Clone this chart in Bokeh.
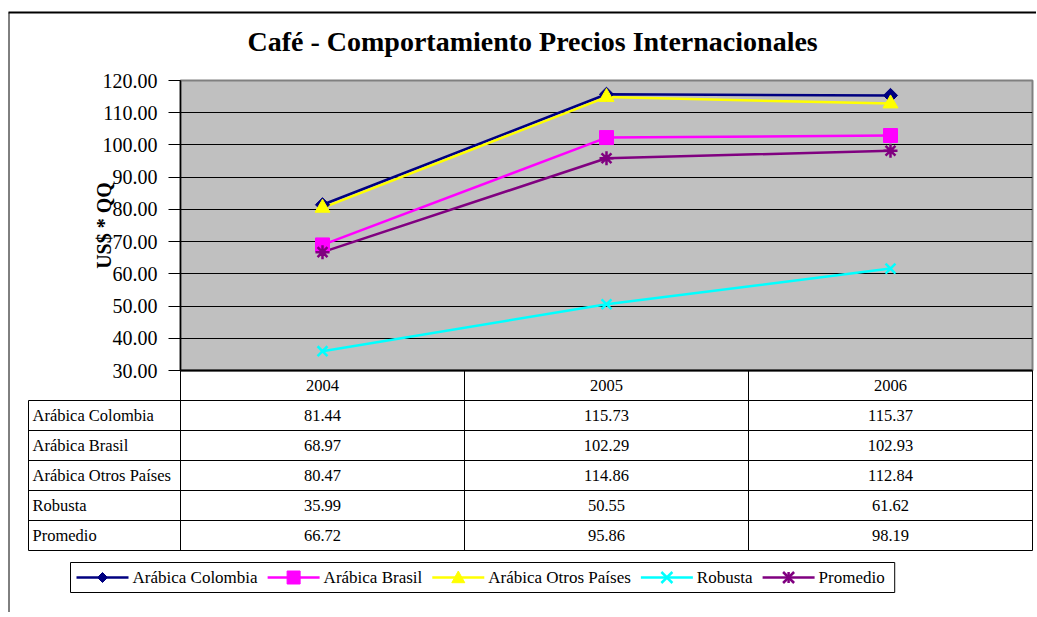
import math
from bokeh.plotting import figure
from bokeh.models import (Range1d, FixedTicker, NumeralTickFormatter, ColumnDataSource)
from bokeh.embed import file_html
from bokeh.resources import INLINE
from bokeh.core.properties import value

# ---------------- data ----------------
years = ["2004", "2005", "2006"]
series_names = ["Arábica Colombia", "Arábica Brasil", "Arábica Otros Países", "Robusta", "Promedio"]
arabica_colombia = [81.44, 115.73, 115.37]
arabica_brasil = [68.97, 102.29, 102.93]
arabica_otros = [80.47, 114.86, 112.84]
robusta = [35.99, 50.55, 61.62]
promedio = [66.72, 95.86, 98.19]
y_ticks = [30, 40, 50, 60, 70, 80, 90, 100, 110, 120]
title_text = "Café - Comportamiento Precios Internacionales"
y_label = "US$ * QQ"

series_values = [arabica_colombia, arabica_brasil, arabica_otros, robusta, promedio]
# category slots: one unit per year, point at the slot centre
year_pos = [i + 0.5 for i in range(len(years))]

# ---------------- styles ----------------
colors = ["#000080", "#FF00FF", "#FFFF00", "#00FFFF", "#800080"]
markers = ["square", "square", "triangle", "x", "asterisk"]
legend_shapes = ["diamond", "square", "triangle", "x", "asterisk"]
marker_angles = [math.pi / 4, 0, 0, 0, 0]
marker_sizes = [10, 14, 15, 14, 14]
legend_marker_half = [5, 6.5, 6.5, 5.5, 5.5]
marker_lw = [1, 1, 1, 2.5, 2.5]
FONT = "Liberation Serif"

W, H = 1036, 612
F_LEFT, F_RIGHT, F_TOP = 180, 4, 80
F_W = W - F_LEFT - F_RIGHT      # 852
F_H = 290
F_BOTTOM = H - F_TOP - F_H

# ---------------- chart ----------------
p = figure(width=W, height=H, x_range=Range1d(0, len(years)), y_range=Range1d(30, 120),
           output_backend="svg", toolbar_location=None,
           min_border_left=F_LEFT, min_border_right=F_RIGHT, min_border_top=F_TOP,
           min_border_bottom=F_BOTTOM, x_axis_location=None,
           background_fill_color="#C0C0C0", outline_line_color="#808080", outline_line_width=2)
# pixel-like helper ranges (origin at frame top-left, y downward) for title, table, legend, box
p.extra_x_ranges = {"px": Range1d(0, F_W)}
p.extra_y_ranges = {"px": Range1d(F_H, 0)}
OV = dict(x_range_name="px", y_range_name="px", level="overlay")

ya = p.yaxis[0]
ya.ticker = FixedTicker(ticks=y_ticks)
ya.formatter = NumeralTickFormatter(format="0.00")
ya.major_label_text_font = FONT
ya.major_label_text_font_size = "20px"
ya.major_label_text_color = "black"
ya.major_tick_out = 12
ya.major_tick_in = 0
ya.minor_tick_out = 0
ya.minor_tick_in = 0
ya.major_label_standoff = 11
ya.axis_line_color = "black"
ya.axis_line_width = 1.5
ya.major_tick_line_color = "black"
ya.axis_label = y_label
ya.axis_label_text_font = FONT
ya.axis_label_text_font_size = "20px"
ya.axis_label_text_font_style = "bold"
ya.axis_label_text_color = "black"
ya.axis_label_standoff = -15

p.ygrid.grid_line_color = "black"
p.ygrid.grid_line_width = 1
p.xgrid.visible = False

# ---------------- title ----------------
p.text(x=[67], y=[-39], text=[title_text], text_align="left", text_baseline="alphabetic",
       text_font=value(FONT), text_font_size="28px", text_font_style="bold",
       text_color="black", **OV)

# ---------------- series ----------------
sources = [ColumnDataSource(dict(x=year_pos, year=years, price=vals)) for vals in series_values]
for src, c in zip(sources, colors):
    p.line("x", "price", source=src, line_color=c, line_width=2.5)
for src, c, m, a, s, lw in zip(sources, colors, markers, marker_angles, marker_sizes, marker_lw):
    p.scatter("x", "price", source=src, marker=m, angle=a, size=s,
              fill_color=c, line_color=c, line_width=lw)

# ---------------- data table (drawn below the frame) ----------------
LABEL_W = 152
COL_W = F_W / len(years)
col_edges = [i * COL_W for i in range(len(years) + 1)]
HEAD_H = 30
ROW_H = 30
T_TOP = F_H
T_BOTTOM = T_TOP + HEAD_H + ROW_H * len(series_names)

p.segment(x0=[0], y0=[T_TOP], x1=[F_W], y1=[T_TOP], line_color="black", line_width=2, **OV)
p.segment(x0=col_edges, y0=[T_TOP] * len(col_edges), x1=col_edges, y1=[T_BOTTOM] * len(col_edges),
          line_color="black", line_width=1, **OV)
hy = [T_TOP + HEAD_H + ROW_H * i for i in range(len(series_names) + 1)]
p.segment(x0=[-LABEL_W] * len(hy), y0=hy, x1=[F_W] * len(hy), y1=hy,
          line_color="black", line_width=1, **OV)
p.segment(x0=[-LABEL_W], y0=[T_TOP + HEAD_H], x1=[-LABEL_W], y1=[T_BOTTOM],
          line_color="black", line_width=1, **OV)

TXT = dict(text_font=value(FONT), text_font_size="16.5px", text_color="black",
           text_baseline="middle", y_range_name="px", level="overlay")
p.text(x=year_pos, y=[T_TOP + HEAD_H / 2] * len(years), text=years, text_align="center", **TXT)
for r, vals in enumerate(series_values):
    yc = T_TOP + HEAD_H + ROW_H * (r + 0.5)
    p.text(x=year_pos, y=[yc] * len(vals), text=[f"{v:.2f}" for v in vals], text_align="center", **TXT)
p.text(x=[-LABEL_W + 4] * len(series_names),
       y=[T_TOP + HEAD_H + ROW_H * (r + 0.5) for r in range(len(series_names))],
       text=series_names, text_align="left", x_range_name="px", **TXT)

# ---------------- outer chart box (top and left edges visible) ----------------
BOX_X0 = -(F_LEFT - 8)
BOX_Y0 = -(F_TOP - 12)
p.segment(x0=[BOX_X0], y0=[BOX_Y0], x1=[F_W + F_RIGHT], y1=[BOX_Y0],
          line_color="black", line_width=2, **OV)
p.segment(x0=[BOX_X0 + 0.5], y0=[BOX_Y0], x1=[BOX_X0 + 0.5], y1=[F_H + F_BOTTOM],
          line_color="black", line_width=1, **OV)

# ---------------- legend (boxed, one row, below the table) ----------------
# advance widths (em) of Liberation Serif / Times for the legend characters
SERIF_W = {"A": .722, "r": .333, "á": .444, "b": .5, "i": .278, "c": .444, "a": .444,
           " ": .25, "C": .667, "o": .5, "l": .278, "m": .778, "B": .667, "s": .389,
           "O": .722, "t": .278, "P": .556, "í": .278, "e": .444, "R": .667, "u": .5, "d": .5}
LEG_FS = 17


def text_width(s):
    return sum(SERIF_W.get(ch, 0.5) for ch in s) * LEG_FS


def legend_marker(shape, cx, cy, h, color):
    """Legend key symbol drawn with unculled glyphs (the key sits outside the frame)."""
    if shape == "diamond":
        p.patch(x=[cx, cx + h, cx, cx - h], y=[cy - h, cy, cy + h, cy],
                fill_color=color, line_color=color, line_width=1, **OV)
    elif shape == "square":
        p.quad(left=[cx - h], right=[cx + h], top=[cy - h], bottom=[cy + h],
               fill_color=color, line_color=color, line_width=1, **OV)
    elif shape == "triangle":
        p.patch(x=[cx - h, cx + h, cx], y=[cy + h * 0.8, cy + h * 0.8, cy - h],
                fill_color=color, line_color=color, line_width=1, **OV)
    else:
        x0 = [cx - h, cx - h]
        x1 = [cx + h, cx + h]
        y0 = [cy - h, cy + h]
        y1 = [cy + h, cy - h]
        if shape == "asterisk":
            x0.append(cx); x1.append(cx); y0.append(cy - h); y1.append(cy + h)
        p.segment(x0=x0, y0=y0, x1=x1, y1=y1, line_color=color, line_width=2.5, **OV)


LEG_GLYPH_W, LEG_STANDOFF, LEG_SPACING = 52, 4, 10
LEG_PAD_L, LEG_PAD_R = 6, 10
LEG_X0 = 70 - F_LEFT
LEG_Y0, LEG_Y1 = 562 - F_TOP, 592 - F_TOP
leg_cy = (LEG_Y0 + LEG_Y1) / 2
starts = []
gx = LEG_X0 + LEG_PAD_L
for name in series_names:
    starts.append(gx)
    gx += LEG_GLYPH_W + LEG_STANDOFF + text_width(name) + LEG_SPACING
LEG_X1 = gx - LEG_SPACING + LEG_PAD_R

p.quad(left=[LEG_X0], right=[LEG_X1], top=[LEG_Y0], bottom=[LEG_Y1],
       fill_color="white", line_color="black", line_width=1, **OV)
for name, gx, c, shp, hh in zip(series_names, starts, colors, legend_shapes, legend_marker_half):
    p.segment(x0=[gx], y0=[leg_cy], x1=[gx + LEG_GLYPH_W], y1=[leg_cy],
              line_color=c, line_width=2.5, **OV)
    legend_marker(shp, gx + LEG_GLYPH_W / 2, leg_cy, hh, c)
    p.text(x=[gx + LEG_GLYPH_W + LEG_STANDOFF], y=[leg_cy], text=[name], text_align="left",
           text_baseline="middle", text_font=value(FONT), text_font_size=f"{LEG_FS}px",
           text_color="black", **OV)

open("out.html", "w").write(file_html(p, INLINE))
